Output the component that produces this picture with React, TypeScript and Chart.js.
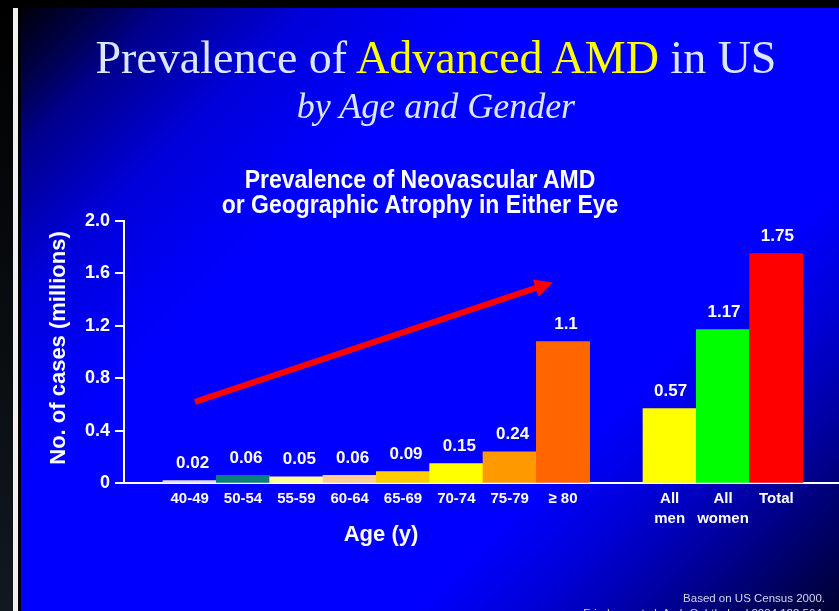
import React, { useEffect, useRef } from "react";
import { Chart, registerables } from "chart.js";

Chart.register(...registerables);

// ---- data ----
const ageGroups: string[] = ["40-49", "50-54", "55-59", "60-64", "65-69", "70-74", "75-79", "≥ 80"];
const ageCases: number[] = [0.02, 0.06, 0.05, 0.06, 0.09, 0.15, 0.24, 1.08];
const ageValueLabels: string[] = ["0.02", "0.06", "0.05", "0.06", "0.09", "0.15", "0.24", "1.1"];
const ageColors: string[] = ["#dcdcf4", "#0a7f78", "#ffff99", "#ffcc99", "#ffcc00", "#ffff00", "#ff9900", "#ff6600"];

const totalGroups: string[][] = [["All", "men"], ["All", "women"], ["Total"]];
const totalCases: number[] = [0.57, 1.17, 1.75];
const totalValueLabels: string[] = ["0.57", "1.17", "1.75"];
const totalColors: string[] = ["#ffff00", "#00ff00", "#ff0000"];

const yTickValues: number[] = [0, 0.4, 0.8, 1.2, 1.6, 2.0];
// trend arrow, in data units (x = bar slot, y = millions)
const trendArrow = [
  { x: 0.1, y: 0.62 },
  { x: 6.81, y: 1.53 },
];

// ---- derived ----
const ageX = ageGroups.map((_, i) => i);
const totalX = totalGroups.map((_, i) => ageGroups.length + 1 + i);
const allX = [...ageX, ...totalX];
const allLabels: (string | string[])[] = [...ageGroups, ...totalGroups];
const allValueLabels = [...ageValueLabels, ...totalValueLabels];
const points = [
  ...ageCases.map((v, i) => ({ x: ageX[i], y: v })),
  ...totalCases.map((v, i) => ({ x: totalX[i], y: v })),
];

const SANS = "'Liberation Sans', Arial, Helvetica, sans-serif";
const SERIF = "'Liberation Serif', 'Times New Roman', serif";

const overlayPlugin = {
  id: "overlay",
  afterDatasetsDraw(chart: any) {
    const { ctx, scales } = chart;
    const xs = scales.x;
    const ys = scales.y;
    const meta = chart.getDatasetMeta(0);
    ctx.save();
    ctx.font = `bold 17px ${SANS}`;
    ctx.fillStyle = "#ffffff";
    ctx.textAlign = "center";
    ctx.textBaseline = "middle";
    meta.data.forEach((bar: any, i: number) => {
      const dx = i < ageGroups.length ? 3 : 1;
      ctx.fillText(allValueLabels[i], bar.x + dx, bar.y - 17);
    });

    // arrow
    const x0 = xs.getPixelForValue(trendArrow[0].x);
    const y0 = ys.getPixelForValue(trendArrow[0].y);
    const x1 = xs.getPixelForValue(trendArrow[1].x);
    const y1 = ys.getPixelForValue(trendArrow[1].y);
    const ang = Math.atan2(y1 - y0, x1 - x0);
    const headLen = 18;
    const headHalf = 9;
    const bx = x1 - headLen * Math.cos(ang);
    const by = y1 - headLen * Math.sin(ang);
    ctx.strokeStyle = "#ff0000";
    ctx.fillStyle = "#ff0000";
    ctx.lineWidth = 6;
    ctx.lineCap = "butt";
    ctx.beginPath();
    ctx.moveTo(x0, y0);
    ctx.lineTo(bx + 2 * Math.cos(ang), by + 2 * Math.sin(ang));
    ctx.stroke();
    ctx.beginPath();
    ctx.moveTo(x1, y1);
    ctx.lineTo(bx + headHalf * Math.sin(ang), by - headHalf * Math.cos(ang));
    ctx.lineTo(bx - headHalf * Math.sin(ang), by + headHalf * Math.cos(ang));
    ctx.closePath();
    ctx.fill();
    ctx.restore();
  },
};

export default function App() {
  const canvasRef = useRef<HTMLCanvasElement>(null);

  useEffect(() => {
    const canvas = canvasRef.current;
    if (!canvas) return;
    const chart = new Chart(canvas, {
      type: "bar",
      data: {
        datasets: [
          {
            data: points as any,
            backgroundColor: [...ageColors, ...totalColors],
            borderWidth: 0,
            barPercentage: 1,
            categoryPercentage: 1,
          },
        ],
      },
      options: {
        animation: false,
        responsive: false,
        devicePixelRatio: 1,
        events: [],
        layout: { padding: { left: 0, right: 0, top: 220.67, bottom: 67.67 } },
        plugins: {
          legend: { display: false },
          tooltip: { enabled: false },
          title: { display: false },
        },
        scales: {
          x: {
            type: "linear",
            min: -1.231,
            max: 12.175,
            offset: false,
            bounds: "data",
            afterBuildTicks: (axis: any) => {
              axis.ticks = allX.map((v) => ({ value: v }));
            },
            afterFit: (axis: any) => {
              axis.height = 60;
            },
            ticks: {
              autoSkip: false,
              maxRotation: 0,
              minRotation: 0,
              color: "#ffffff",
              padding: 6,
              font: { family: SANS, size: 15, weight: "bold", lineHeight: 1.3 },
              callback: (_v: any, index: number) => allLabels[index],
            },
            grid: { display: false, drawTicks: false, offset: false },
            border: { display: true, color: "#ffffff", width: 2 },
          },
          y: {
            type: "linear",
            min: 0,
            max: 2,
            afterBuildTicks: (axis: any) => {
              axis.ticks = yTickValues.map((v) => ({ value: v }));
            },
            afterFit: (axis: any) => {
              axis.width = 124;
            },
            ticks: {
              color: "#ffffff",
              padding: 5,
              font: { family: SANS, size: 18, weight: "bold" },
              callback: (v: any) => (Number(v) === 0 ? "0" : Number(v).toFixed(1)),
            },
            grid: { drawOnChartArea: false, drawTicks: true, tickLength: 9, color: "#ffffff", lineWidth: 2 },
            border: { display: true, color: "#ffffff", width: 2 },
          },
        },
      } as any,
      plugins: [overlayPlugin],
    });
    return () => chart.destroy();
  }, []);

  const titleColor = "#dde6ff";

  return (
    <div style={{ position: "fixed", left: 0, top: 0, width: 839, height: 611, background: "#000", overflow: "hidden" }}>
      <div style={{ position: "absolute", left: 0, top: 8, width: 13, bottom: 0, background: "linear-gradient(to bottom, #000000, #111820)" }} />
      <div style={{ position: "absolute", left: 13, top: 8, width: 5, bottom: 0, background: "#f0f0f0" }} />
      <div
        style={{
          position: "absolute",
          left: 21,
          top: 8,
          right: 0,
          bottom: 0,
          background:
            "linear-gradient(135deg, #00000a 0%, #000045 5%, #00008c 10%, #0000d8 20%, #0000f8 30%, #0000ff 35%, #0000ff 70%, #0000d8 78%, #0000a8 85%, #000078 91%, #000030 100%)",
        }}
      />
      <canvas ref={canvasRef} width={839} height={611} style={{ position: "absolute", left: 0, top: 0, width: 839, height: 611 }} />

      {/* slide title */}
      <div
        style={{
          position: "absolute",
          left: 436,
          top: 34.8,
          transform: "translateX(-50%)",
          whiteSpace: "nowrap",
          fontFamily: SERIF,
          fontSize: 46,
          lineHeight: "46px",
          color: titleColor,
        }}
      >
        Prevalence of <span style={{ color: "#ffff00" }}>Advanced AMD</span> in US
      </div>
      <div
        style={{
          position: "absolute",
          left: 436,
          top: 87.8,
          transform: "translateX(-50%)",
          whiteSpace: "nowrap",
          fontFamily: SERIF,
          fontStyle: "italic",
          fontSize: 36,
          lineHeight: "36px",
          color: titleColor,
        }}
      >
        by Age and Gender
      </div>

      {/* chart title */}
      <div
        style={{
          position: "absolute",
          left: 420,
          top: 167.2,
          transform: "translateX(-50%) scaleY(1.1)",
          transformOrigin: "50% 0",
          whiteSpace: "nowrap",
          textAlign: "center",
          fontFamily: SANS,
          fontWeight: "bold",
          fontSize: 23,
          lineHeight: "22.5px",
          color: "#ffffff",
        }}
      >
        Prevalence of Neovascular AMD
        <br />
        or Geographic Atrophy in Either Eye
      </div>

      {/* y axis title */}
      <div
        style={{
          position: "absolute",
          left: 58 - 150,
          top: 348 - 11,
          width: 300,
          height: 22,
          transform: "rotate(-90deg)",
          transformOrigin: "50% 50%",
          textAlign: "center",
          whiteSpace: "nowrap",
          fontFamily: SANS,
          fontWeight: "bold",
          fontSize: 22,
          lineHeight: "22px",
          color: "#ffffff",
        }}
      >
        No. of cases (millions)
      </div>

      {/* x axis title */}
      <div
        style={{
          position: "absolute",
          left: 381,
          top: 523.3,
          transform: "translateX(-50%)",
          whiteSpace: "nowrap",
          fontFamily: SANS,
          fontWeight: "bold",
          fontSize: 22,
          lineHeight: "22px",
          color: "#ffffff",
        }}
      >
        Age (y)
      </div>

      {/* source note */}
      <div
        style={{
          position: "absolute",
          right: 839 - 825,
          top: 591,
          textAlign: "right",
          whiteSpace: "nowrap",
          fontFamily: SANS,
          fontSize: 11.5,
          lineHeight: "14.5px",
          color: "#d4d6f0",
        }}
      >
        Based on US Census 2000.
        <br />
        Friedman et al. Arch Ophthalmol 2004;122:564.
      </div>
    </div>
  );
}
